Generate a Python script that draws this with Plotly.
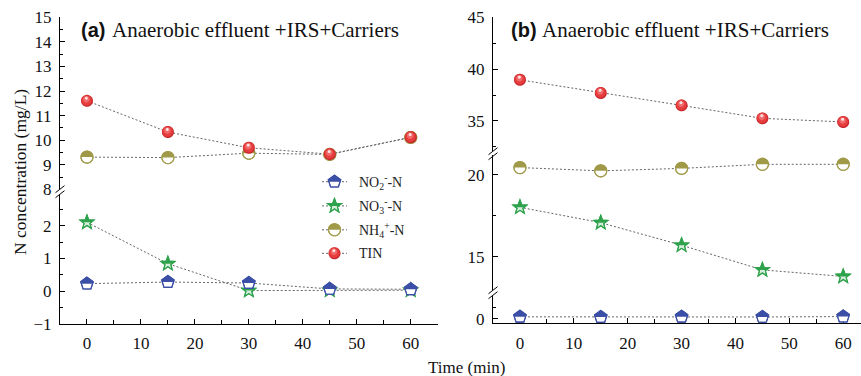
import numpy as np
import plotly.graph_objects as go

# ---------------- data ----------------
time = [0, 15, 30, 45, 60]

a_no2 = [0.23, 0.28, 0.25, 0.07, 0.06]
a_no3 = [2.10, 0.84, 0.02, 0.03, 0.03]
a_nh4 = [9.31, 9.29, 9.47, 9.42, 10.11]
a_tin = [11.60, 10.33, 9.69, 9.43, 10.12]

b_no2 = [0.45, 0.40, 0.45, 0.42, 0.50]
b_no3 = [18.02, 17.08, 15.70, 14.19, 13.79]
b_nh4 = [20.45, 20.25, 20.40, 20.65, 20.65]
b_tin = [38.97, 37.70, 36.50, 35.25, 34.90]

series_labels = ["NO<sub>2</sub><sup>-</sup>-N", "NO<sub>3</sub><sup>-</sup>-N",
                 "NH<sub>4</sub><sup>+</sup>-N", "TIN"]
panel_titles = ["Anaerobic effluent +IRS+Carriers", "Anaerobic effluent +IRS+Carriers"]
panel_tags = ["(a)", "(b)"]
x_title = "Time (min)"
y_title = "N concentration (mg/L)"

# ---------------- style ----------------
W, H = 861, 376
SERIF = "Liberation Serif, Times New Roman, serif"
SANS = "Liberation Sans, Arial, sans-serif"
C_NO2 = "#3b4fa6"
C_NO3 = "#2ea24c"
C_NH4 = "#a09a48"
LINE_C = "#666666"
LOWER_FILL = {"pent": "white", "star": "#d8eedc", "circ": "white"}


def fx(px):
    return px / W


def fy(py):
    return 1 - py / H


# marker geometry (pixel units, y up)
def circle_poly(r, n=36, cx=0.0, cy=0.0):
    return [(cx + r * np.cos(2 * np.pi * k / n), cy + r * np.sin(2 * np.pi * k / n)) for k in range(n)]


def pentagon_poly(r):
    return [(r * np.cos(np.pi / 2 + 2 * np.pi * k / 5), r * np.sin(np.pi / 2 + 2 * np.pi * k / 5)) for k in range(5)]


def star_poly(R, ri):
    pts = []
    for k in range(10):
        rr = R if k % 2 == 0 else ri
        a = np.pi / 2 + np.pi * k / 5
        pts.append((rr * np.cos(a), rr * np.sin(a)))
    return pts


def clip_top(poly):
    out = []
    n = len(poly)
    for i in range(n):
        p, q = poly[i], poly[(i + 1) % n]
        pin, qin = p[1] >= 0, q[1] >= 0
        if pin:
            out.append(p)
        if pin != qin:
            t = p[1] / (p[1] - q[1])
            out.append((p[0] + t * (q[0] - p[0]), 0.0))
    return out


def to_path(poly):
    return "M" + "L".join(f"{x:.2f},{y:.2f}" for x, y in poly) + "Z"


SHAPES_GEOM = {
    "pent": pentagon_poly(6.6),
    "star": star_poly(7.4, 3.1),
    "circ": circle_poly(6.0),
}


def half_marker(kind, color, xref, yref, xa, ya):
    poly = SHAPES_GEOM[kind]
    base = dict(type="path", xref=xref, yref=yref, xsizemode="pixel", ysizemode="pixel",
                xanchor=xa, yanchor=ya, layer="above")
    return [
        dict(base, path=to_path(poly), fillcolor=LOWER_FILL[kind], line=dict(color=color, width=1.1)),
        dict(base, path=to_path(clip_top(poly)), fillcolor=color, line=dict(width=0)),
        dict(base, path=to_path(poly), fillcolor="rgba(0,0,0,0)", line=dict(color=color, width=1.1)),
    ]


def sphere_marker(xref, yref, xa, ya):
    base = dict(type="path", xref=xref, yref=yref, xsizemode="pixel", ysizemode="pixel",
                xanchor=xa, yanchor=ya, layer="above", line=dict(width=0))
    layers = [(6.0, 0, 0, "#c8262a"), (5.2, -0.3, 0.5, "#e63d3e"),
              (3.2, -0.6, 1.5, "#f06a69"), (1.5, -0.6, 2.6, "#fde2e1")]
    return [dict(base, path=to_path(circle_poly(r, 30, cx, cy)), fillcolor=c) for r, cx, cy, c in layers]


fig = go.Figure()
shapes = []

panels = [
    ("x", [(a_no3, "y", "star", C_NO3), (a_no2, "y", "pent", C_NO2),
           (a_nh4, "y2", "circ", C_NH4), (a_tin, "y2", "ball", None)]),
    ("x2", [(b_no3, "y4", "star", C_NO3), (b_no2, "y3", "pent", C_NO2),
            (b_nh4, "y4", "circ", C_NH4), (b_tin, "y5", "ball", None)]),
]

for xref, series in panels:
    for vals, yref, kind, color in series:
        fig.add_trace(go.Scatter(x=time, y=vals, xaxis=xref, yaxis=yref, mode="lines",
                                 line=dict(color=LINE_C, width=1, dash="2px,2px"),
                                 showlegend=False, hoverinfo="skip"))
        for t, v in zip(time, vals):
            if kind == "ball":
                shapes += sphere_marker(xref, yref, t, v)
            else:
                shapes += half_marker(kind, color, xref, yref, t, v)

# ---------------- manual legend ----------------
leg_y = [181.7, 205.9, 229.8, 253.3]
leg_kinds = [("pent", C_NO2), ("star", C_NO3), ("circ", C_NH4), ("ball", None)]
annotations = []
for lab, py, (kind, color) in zip(series_labels, leg_y, leg_kinds):
    shapes.append(dict(type="line", xref="paper", yref="paper", x0=fx(322), x1=fx(347),
                       y0=fy(py), y1=fy(py), line=dict(color=LINE_C, width=1, dash="2px,2px"),
                       layer="above"))
    if kind == "ball":
        shapes += sphere_marker("paper", "paper", fx(334.5), fy(py))
    else:
        shapes += half_marker(kind, color, "paper", "paper", fx(334.5), fy(py))
    annotations.append(dict(text=lab, xref="paper", yref="paper", x=fx(357), y=fy(py),
                            xanchor="left", yanchor="middle", showarrow=False,
                            font=dict(family=SERIF, size=14, color="#222")))

# ---------------- axis breaks ----------------
def brk(x0, y0, x1, y1):
    return dict(type="line", xref="paper", yref="paper", x0=fx(x0), y0=fy(y0), x1=fx(x1), y1=fy(y1),
                line=dict(color="black", width=1), layer="above")

for (xc, yc) in [(60, 191.5), (493, 153.5), (493, 292.5)]:
    shapes.append(brk(xc - 4.5, yc + 1.2, xc + 4.5, yc - 5.8))
    shapes.append(brk(xc - 4.5, yc + 6.2, xc + 4.5, yc - 0.8))

# ---------------- titles ----------------
for tag, title, px in zip(panel_tags, panel_titles, [79, 509]):
    annotations.append(dict(text="<b>" + tag + "</b>", xref="paper", yref="paper", x=fx(px), y=fy(29.5),
                            xanchor="left", yanchor="middle", showarrow=False,
                            font=dict(family=SANS, size=20, color="#111")))
    annotations.append(dict(text=title, xref="paper", yref="paper", x=fx(px + 31), y=fy(29.5),
                            xanchor="left", yanchor="middle", showarrow=False,
                            font=dict(family=SERIF, size=21, color="#111")))

annotations.append(dict(text=x_title, xref="paper", yref="paper", x=fx(466.5), y=fy(367),
                        xanchor="center", yanchor="middle", showarrow=False,
                        font=dict(family=SERIF, size=17, color="#111")))
annotations.append(dict(text=y_title, xref="paper", yref="paper", x=fx(20), y=fy(172),
                        xanchor="center", yanchor="middle", showarrow=False, textangle=-90,
                        font=dict(family=SERIF, size=17.5, color="#111")))

tickfont = dict(family=SERIF, size=17, color="#111")
common = dict(showline=True, linecolor="black", linewidth=1, ticks="inside", ticklen=5,
              tickcolor="black", tickwidth=1, showgrid=False, zeroline=False, tickfont=tickfont,
              ticklabelstandoff=4, automargin=False)


def yax(domain, rng, dtick, minor, anchor):
    return dict(common, domain=domain, range=rng, dtick=dtick, tick0=0, anchor=anchor,
                minor=dict(dtick=minor, tick0=0, ticks="inside", ticklen=3, tickcolor="black"))


fig.update_layout(
    template="none",
    width=W, height=H, margin=dict(l=0, r=0, t=0, b=0, pad=0, autoexpand=False),
    paper_bgcolor="white", plot_bgcolor="white", showlegend=False,
    xaxis=dict(common, domain=[fx(60), fx(437.7)], range=[-5, 65], dtick=10, tick0=0, anchor="y",
               minor=dict(dtick=5, tick0=0, ticks="inside", ticklen=4, tickcolor="black")),
    yaxis=yax([fy(324), fy(194.5)], [-1, 2.95], 1, 0.5, "x"),
    yaxis2=yax([fy(189.3), fy(17.3)], [8, 15], 1, 0.5, "x"),
    xaxis2=dict(common, domain=[fx(493), 1.0], range=[-5, 63.3], dtick=10, tick0=0, anchor="y3",
                minor=dict(dtick=5, tick0=0, ticks="inside", ticklen=4, tickcolor="black")),
    yaxis3=yax([fy(323.3), fy(296)], [-0.9, 4.8], 5, 2.5, "x2"),
    yaxis4=yax([fy(290), fy(155)], [12.96, 21.22], 5, 2.5, "x2"),
    yaxis5=yax([fy(151), fy(17.3)], [32.1, 45], 5, 2.5, "x2"),
    shapes=shapes, annotations=annotations,
)

fig.write_html("out.html", config={"displayModeBar": False},
               post_script="document.body.style.margin='0px';document.body.style.overflow='hidden';")
